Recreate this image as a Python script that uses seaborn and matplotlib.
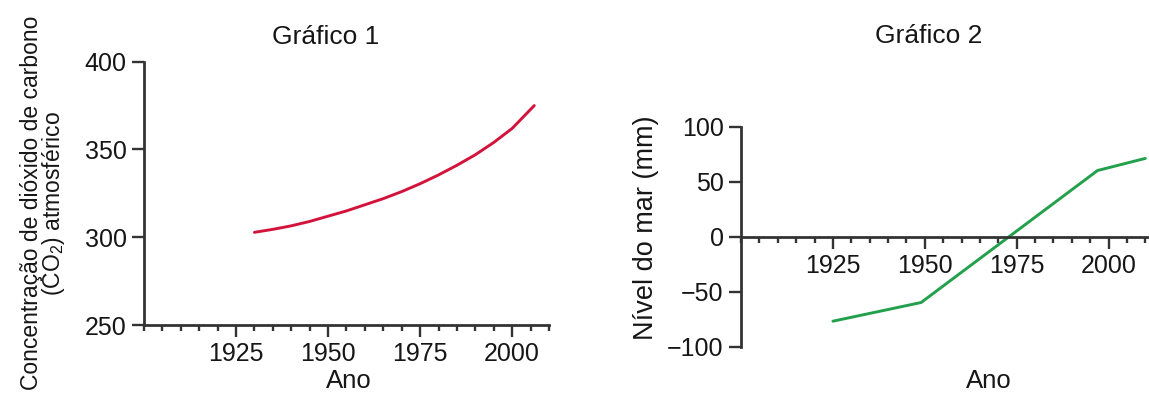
import numpy as np
import pandas as pd
import matplotlib
matplotlib.use("Agg")
import matplotlib.pyplot as plt
from matplotlib.ticker import MultipleLocator
import seaborn as sns

# Gráfico 1 - CO2 atmosférico
co2_years = [1930, 1935, 1940, 1945, 1950, 1955, 1960, 1965, 1970,
             1975, 1980, 1985, 1990, 1995, 2000, 2006]
co2_ppm = [302.8, 304.5, 306.5, 309, 312, 315, 318.5, 322, 326,
           330.5, 335.5, 341, 347, 354, 362, 375]

# Gráfico 2 - nível do mar
sea_years = [1925, 1949, 1997, 2010]
sea_mm = [-77, -60, 60, 71]

year_ticks = [1925, 1950, 1975, 2000]
co2_ticks = [250, 300, 350, 400]
sea_ticks = [-100, -50, 0, 50, 100]

sns.set_style("ticks")
plt.rcParams['font.family'] = ['Liberation Sans', 'DejaVu Sans']
plt.rcParams['mathtext.fontset'] = 'custom'
plt.rcParams['mathtext.rm'] = 'Liberation Sans'
plt.rcParams['mathtext.default'] = 'regular'

AXC = '#333333'
TXT = '#161616'

df1 = pd.DataFrame({'ano': co2_years, 'co2': co2_ppm})
df2 = pd.DataFrame({'ano': sea_years, 'nivel': sea_mm})

fig = plt.figure(figsize=(11.49, 3.93), dpi=100)
ax1 = fig.add_axes([0.1253, 0.1730, 0.3525, 0.670])
ax2 = fig.add_axes([0.6449, 0.1183, 0.3551, 0.5598])

sns.lineplot(data=df1, x='ano', y='co2', ax=ax1, color='#d2143c', linewidth=2.1)
sns.lineplot(data=df2, x='ano', y='nivel', ax=ax2, color='#22a04c', linewidth=2.1)

def style_axis(ax):
    for s in ['top', 'right']:
        ax.spines[s].set_visible(False)
    for s in ['left', 'bottom']:
        ax.spines[s].set_color(AXC)
        ax.spines[s].set_linewidth(2.0)
    ax.xaxis.set_minor_locator(MultipleLocator(5))
    ax.tick_params(axis='both', which='major', direction='out', length=8.5,
                   width=1.7, color=AXC, labelsize=18, labelcolor=TXT, pad=4)
    ax.tick_params(axis='x', which='minor', direction='out', length=4.5,
                   width=1.7, color=AXC)
    ax.set_xticks(year_ticks)

style_axis(ax1)
ax1.set_xlim(1900, 2010)
ax1.set_ylim(250, 400)
ax1.set_yticks(co2_ticks)

style_axis(ax2)
ax2.set_xlim(1900, 2011)
ax2.set_ylim(-100, 100)
ax2.set_yticks(sea_ticks)
ax2.spines['bottom'].set_position(('data', 0))

ax1.set_xlabel('Ano', fontsize=18.5, color=TXT, va='center')
ax1.xaxis.set_label_coords(0.506, -0.213)
ax1.set_ylabel('Concentração de dióxido de carbono\n(CO$_2$) atmosférico',
               fontsize=16.5, color=TXT, va='center', linespacing=0.85)
ax1.yaxis.set_label_coords(-0.247, 0.463)

ax2.set_xlabel('Ano', fontsize=18.5, color=TXT, va='center')
ax2.xaxis.set_label_coords(0.608, -0.157)
ax2.set_ylabel('Nível do mar (mm)', fontsize=19.5, color=TXT, va='center')
ax2.yaxis.set_label_coords(-0.233, 0.539)

fig.text(326 / 1149, 1 - 37 / 393, 'Gráfico 1', fontsize=19, color=TXT,
         ha='center', va='center')
fig.text(929 / 1149, 1 - 36 / 393, 'Gráfico 2', fontsize=19, color=TXT,
         ha='center', va='center')

fig.savefig('out.png', dpi=100)
